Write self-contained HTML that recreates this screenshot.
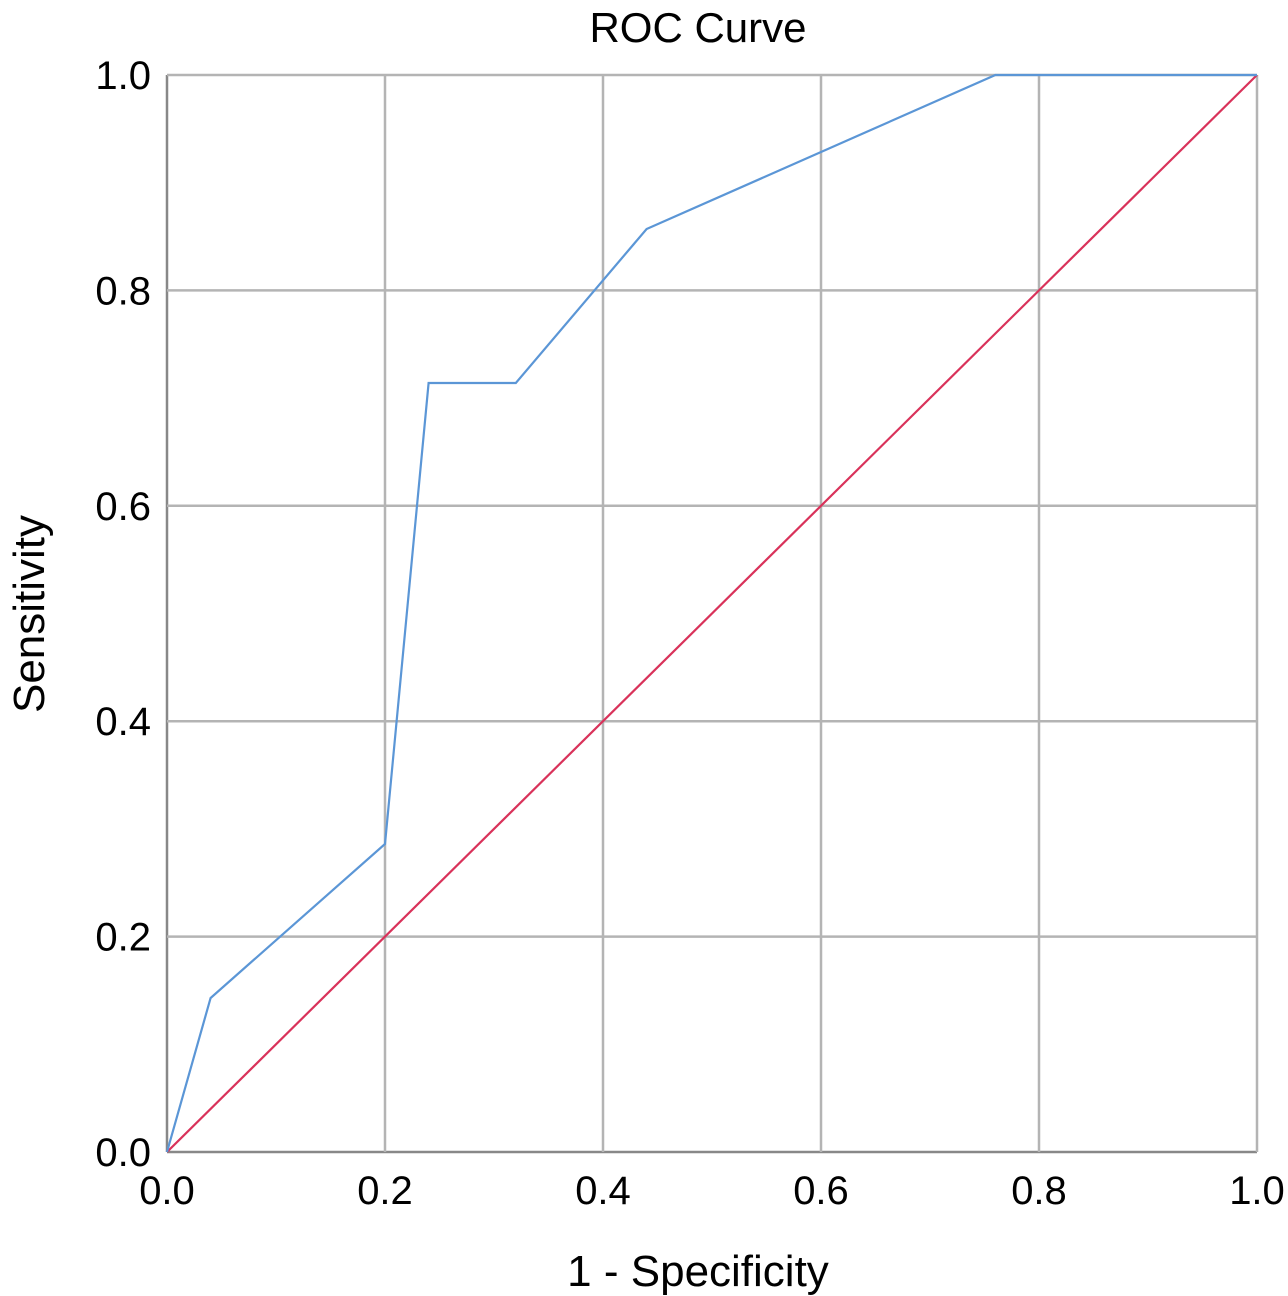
<!DOCTYPE html>
<html><head><meta charset="utf-8"><style>
html,body{margin:0;padding:0;background:#fff;}
svg{display:block;font-family:"Liberation Sans",Arial,sans-serif;}
</style></head><body>
<svg id="chart" width="1288" height="1296">
<text x="698" y="42" font-size="42" text-anchor="middle" fill="#000">ROC Curve</text>
<g id="grid"></g>
<g id="ticks"></g>
<text x="698" y="1286" font-size="44" text-anchor="middle" fill="#000">1 - Specificity</text>
<text transform="translate(44,614) rotate(-90)" font-size="44" text-anchor="middle" fill="#000">Sensitivity</text>
<g id="series"></g>
</svg>
<script>
const tickValues = [0, 0.2, 0.4, 0.6, 0.8, 1.0];
const tickLabels = ["0.0","0.2","0.4","0.6","0.8","1.0"];
const rocX = [0, 0.04, 0.2, 0.24, 0.32, 0.44, 0.76, 1.0];
const rocY = [0, 0.143, 0.286, 0.714, 0.714, 0.857, 1.0, 1.0];
const refX = [0, 1];
const refY = [0, 1];

const X0=167,X1=1257,Y0=1152,Y1=75;
const sx=v=>X0+(X1-X0)*v, sy=v=>Y0-(Y0-Y1)*v;
const NS="http://www.w3.org/2000/svg";
const grid=document.getElementById('grid'), ticks=document.getElementById('ticks'), series=document.getElementById('series');
function mk(tag,attrs,parent){const e=document.createElementNS(NS,tag);for(const k in attrs)e.setAttribute(k,attrs[k]);parent.appendChild(e);return e;}
tickValues.forEach((v,i)=>{
  const edge = (i===0);
  const gv=mk('line',{x1:sx(v),x2:sx(v),y1:Y1,y2:Y0,stroke:edge?'#888':'#b4b4b4','stroke-width':2.5},grid);
  
  
  const gh=mk('line',{x1:X0,x2:X1,y1:sy(v),y2:sy(v),stroke:edge?'#888':'#b4b4b4','stroke-width':2.5},grid);
  
  
  const tx=mk('text',{x:sx(v),y:1204,'font-size':40,'text-anchor':'middle',fill:'#000'},ticks);
  tx.textContent=tickLabels[i];
  
  
  const ty=mk('text',{x:151,y:sy(v)+14,'font-size':40,'text-anchor':'end',fill:'#000'},ticks);
  ty.textContent=tickLabels[i];
  
  
});
const ref=mk('polyline',{points:refX.map((x,i)=>sx(x)+','+sy(refY[i])).join(' '),fill:'none',stroke:'#d9325a','stroke-width':2.2},series);


const roc=mk('polyline',{points:rocX.map((x,i)=>sx(x)+','+sy(rocY[i])).join(' '),fill:'none',stroke:'#5b96d6','stroke-width':2.2},series);


</script>
</body></html>
